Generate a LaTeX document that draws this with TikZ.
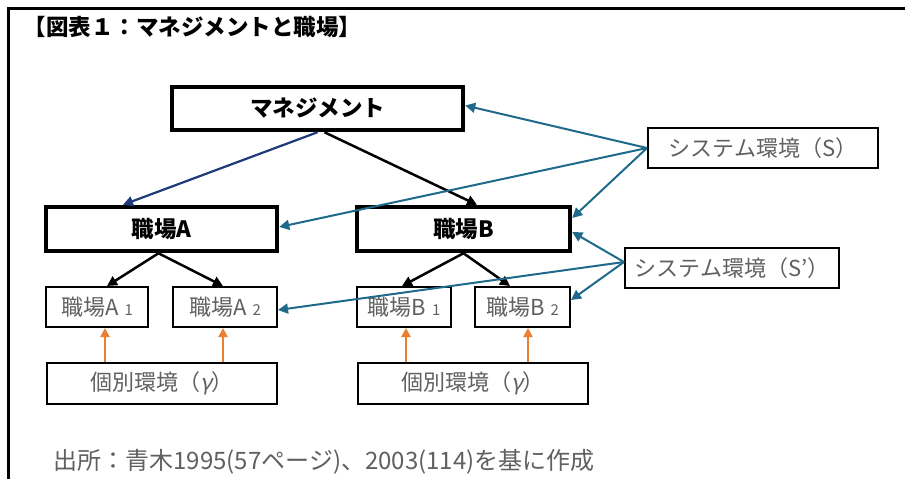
\documentclass[tikz,border=0pt]{standalone}
\usepackage{fontspec}
\setmainfont{Noto Sans CJK JP}
\newfontfamily\jpslant[FakeSlant=0.2]{Noto Sans CJK JP}
\usetikzlibrary{arrows.meta}
\definecolor{teal1}{HTML}{1F6A8A}
\definecolor{navy1}{HTML}{1F3A7A}
\definecolor{orange1}{HTML}{ED7D31}
\definecolor{gtext}{HTML}{606060}
\tikzset{
  thickbox/.style={draw=black, line width=4.5pt, fill=white, inner sep=0pt, font=\fontsize{22.5}{26}\selectfont\bfseries, text=black},
  thinbox/.style={draw=black, line width=2pt, fill=white, inner sep=0pt, font=\fontsize{22}{26}\selectfont, text=gtext},
  blk/.style={draw=black, line width=2.5pt, -{Triangle[length=10pt,width=10pt]}},
  nav/.style={draw=navy1, line width=2.2pt, -{Triangle[length=10pt,width=10pt]}},
  tl/.style={draw=teal1, line width=2pt, -{Triangle[length=10pt,width=10pt]}},
  org/.style={draw=orange1, line width=2pt, -{Triangle[length=9pt,width=9pt]}},
}
\newcommand{\smalldig}[1]{\hspace{6pt}{\fontsize{15}{15}\selectfont #1}}
\begin{document}
\begin{tikzpicture}[x=1pt,y=-1pt]
\useasboundingbox[fill=white] (0,0) rectangle (905,479);
\draw[line width=3pt] (905,8) -- (8,8) -- (8,479);
\node[anchor=west, font=\fontsize{22.5}{26}\selectfont\bfseries] (title) at (20,27) {【図表１：マネジメントと職場】};

\node[thickbox, minimum width=291pt, minimum height=43pt] (mg) at (317.5,108.5) {マネジメント};
\node[thickbox, minimum width=231pt, minimum height=44pt] (wA) at (161.5,229) {職場A};
\node[thickbox, minimum width=213pt, minimum height=44pt] (wB) at (463.5,229) {職場B};

\node[thinbox, minimum width=102pt, minimum height=40pt] (A1) at (97,307) {職場A\smalldig{1}};
\node[thinbox, minimum width=104pt, minimum height=40pt] (A2) at (225,307) {職場A\smalldig{2}};
\node[thinbox, minimum width=94pt, minimum height=40pt] (B1) at (404,307) {職場B\smalldig{1}};
\node[thinbox, minimum width=95pt, minimum height=40pt] (B2) at (522.5,307) {職場B\smalldig{2}};

\node[thinbox, minimum width=230pt, minimum height=41pt] (gL) at (162,383.5) {個別環境（{\jpslant γ}）};
\node[thinbox, minimum width=230pt, minimum height=41pt] (gR) at (473,383.5) {個別環境（{\jpslant γ}）};

\node[thinbox, minimum width=230pt, minimum height=40pt] (S) at (763,148) {システム環境（S）};
\node[thinbox, minimum width=214pt, minimum height=40pt] (Sp) at (732,268) {システム環境（S'）};

\node[anchor=west, font=\fontsize{24}{28}\selectfont, text=gtext] (src) at (50,462) {出所：青木1995(57ページ)、2003(114)を基に作成};

% management arrows
\draw[nav] (mg.south) -- ([xshift=-38.5pt]wA.north);
\draw[blk] ([xshift=7pt]mg.south) -- ([xshift=13.5pt]wB.north);
% workplace arrows
\draw[blk] ([xshift=-3pt]wA.south) -- ([xshift=10pt]A1.north);
\draw[blk] ([xshift=-3pt]wA.south) -- ([xshift=-2pt]A2.north);
\draw[blk] (wB.south) -- ([xshift=-2pt]B1.north);
\draw[blk] (wB.south) -- ([xshift=-12.5pt]B2.north);
% system environment S
\draw[tl] (S.west) -- ([yshift=3pt]mg.east);
\draw[tl] (S.west) -- ([yshift=2pt]wA.east);
\draw[tl] (S.west) -- ([yshift=11pt]wB.east);
% system environment S'
\draw[tl] ([yshift=6pt]Sp.west) -- ([yshift=-3pt]wB.east);
\draw[tl] ([yshift=6pt]Sp.west) -- ([yshift=-3pt]A2.east);
\draw[tl] ([yshift=6pt]Sp.west) -- ([yshift=7pt]B2.east);
% individual environment
\draw[org] ([xshift=-57pt]gL.north) -- ([xshift=8pt]A1.south);
\draw[org] ([xshift=61pt]gL.north) -- ([xshift=-2pt]A2.south);
\draw[org] ([xshift=-67pt]gR.north) -- ([xshift=2pt]B1.south);
\draw[org] ([xshift=55pt]gR.north) -- ([xshift=5.5pt]B2.south);
\end{tikzpicture}
\end{document}
